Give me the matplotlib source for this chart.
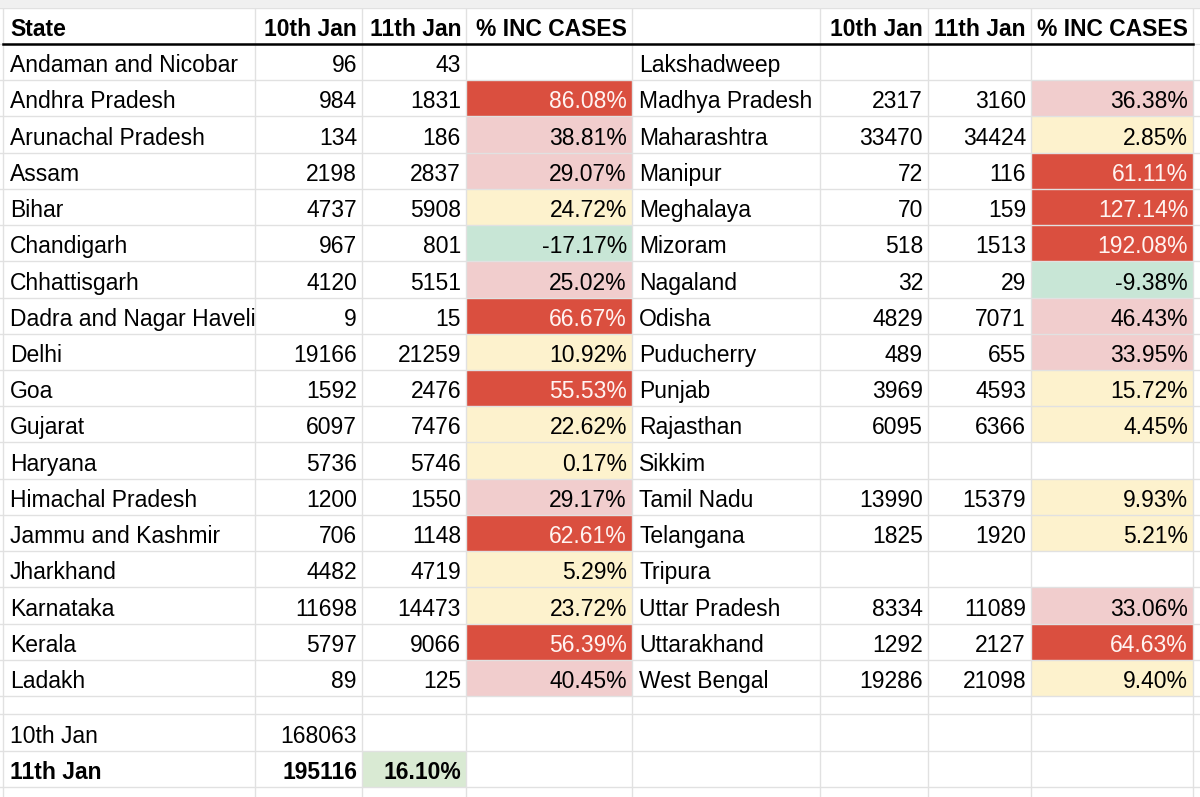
import matplotlib.pyplot as plt
from matplotlib.patches import Rectangle

plt.rcParams['font.family'] = ['Liberation Sans', 'DejaVu Sans']

# left block
left_states = ["Andaman and Nicobar", "Andhra Pradesh", "Arunachal Pradesh", "Assam", "Bihar",
               "Chandigarh", "Chhattisgarh", "Dadra and Nagar Haveli", "Delhi", "Goa", "Gujarat",
               "Haryana", "Himachal Pradesh", "Jammu and Kashmir", "Jharkhand", "Karnataka",
               "Kerala", "Ladakh"]
left_jan10 = [96, 984, 134, 2198, 4737, 967, 4120, 9, 19166, 1592, 6097, 5736, 1200, 706,
              4482, 11698, 5797, 89]
left_jan11 = [43, 1831, 186, 2837, 5908, 801, 5151, 15, 21259, 2476, 7476, 5746, 1550, 1148,
              4719, 14473, 9066, 125]
left_pct = [None, 86.08, 38.81, 29.07, 24.72, -17.17, 25.02, 66.67, 10.92, 55.53, 22.62,
            0.17, 29.17, 62.61, 5.29, 23.72, 56.39, 40.45]

# right block
right_states = ["Lakshadweep", "Madhya Pradesh", "Maharashtra", "Manipur", "Meghalaya",
                "Mizoram", "Nagaland", "Odisha", "Puducherry", "Punjab", "Rajasthan", "Sikkim",
                "Tamil Nadu", "Telangana", "Tripura", "Uttar Pradesh", "Uttarakhand",
                "West Bengal"]
right_jan10 = [None, 2317, 33470, 72, 70, 518, 32, 4829, 489, 3969, 6095, None, 13990, 1825,
               None, 8334, 1292, 19286]
right_jan11 = [None, 3160, 34424, 116, 159, 1513, 29, 7071, 655, 4593, 6366, None, 15379, 1920,
               None, 11089, 2127, 21098]
right_pct = [None, 36.38, 2.85, 61.11, 127.14, 192.08, -9.38, 46.43, 33.95, 15.72, 4.45, None,
             9.93, 5.21, None, 33.06, 64.63, 9.40]

headers = ["State", "10th Jan", "11th Jan", "% INC CASES"]
total_jan10 = 168063
total_jan11 = 195116
total_pct = 16.10

# sheet geometry (pixels)
col_x = [3, 255, 362, 466, 632, 820, 928, 1031, 1193]
row_h = 36.22
header_top, header_bot = 8, 44
FS = 16.5
GRID = "#e1e1e1"


def pct_style(v):
    if v < 0:
        return "#c8e6d6", "black"
    if v < 25:
        return "#fdf2cd", "black"
    if v < 50:
        return "#f1cdcd", "black"
    return "#da4f3f", "#fff4f2"


fig = plt.figure(figsize=(12, 7.97), dpi=100)
ax = fig.add_axes([0, 0, 1, 1])
ax.set_xlim(0, 1200)
ax.set_ylim(797, 0)
ax.axis("off")

# frozen row strip at top
ax.add_patch(Rectangle((0, 0), 1200, header_top, color="#f0f0f0", lw=0))


def cell_text(c, top, bot, s, align="right", color="black", weight="normal"):
    y = bot - 8
    if align == "left":
        t = ax.text(col_x[c] + 7, y, s, ha="left", va="baseline", fontsize=FS,
                    color=color, fontweight=weight)
        # sheets cuts text at the next filled cell
        clip = Rectangle((col_x[c], top), col_x[c + 1] - col_x[c] - 1, bot - top,
                         transform=ax.transData, visible=False)
        ax.add_patch(clip)
        t.set_clip_path(clip)
    else:
        t = ax.text(col_x[c + 1] - 5, y, s, ha="right", va="baseline", fontsize=FS,
                    color=color, fontweight=weight)
    return t


def fill(c, top, bot, color):
    ax.add_patch(Rectangle((col_x[c], top), col_x[c + 1] - col_x[c], bot - top,
                           color=color, lw=0, zorder=0.5))


# header row
for off in (0, 4):
    for j, h in enumerate(headers):
        if off == 4 and j == 0:
            continue
        cell_text(off + j, header_top, header_bot, h,
                  align="left" if j == 0 else "right", weight="bold")

# body rows
row_edges = [header_bot + i * row_h for i in range(len(left_states) + 1)]
blocks = [(0, left_states, left_jan10, left_jan11, left_pct),
          (4, right_states, right_jan10, right_jan11, right_pct)]
for off, names, a, b, p in blocks:
    for i, name in enumerate(names):
        top, bot = row_edges[i], row_edges[i + 1]
        cell_text(off, top, bot, name, align="left")
        if a[i] is not None:
            cell_text(off + 1, top, bot, str(a[i]))
        if b[i] is not None:
            cell_text(off + 2, top, bot, str(b[i]))
        if p[i] is not None:
            bg, fg = pct_style(p[i])
            fill(off + 3, top, bot, bg)
            cell_text(off + 3, top, bot, f"{p[i]:.2f}%", color=fg)

# totals
body_bot = row_edges[-1]
gap_bot = body_bot + 18
t1 = (gap_bot, gap_bot + 37)
t2 = (gap_bot + 37, gap_bot + 73)
cell_text(0, *t1, "10th Jan", align="left")
cell_text(1, *t1, str(total_jan10))
cell_text(0, *t2, "11th Jan", align="left", weight="bold")
cell_text(1, *t2, str(total_jan11), weight="bold")
fill(2, *t2, "#d9ead3")
cell_text(2, *t2, f"{total_pct:.2f}%", weight="bold")

# grid lines
h_lines = [header_top] + row_edges + [gap_bot, t1[1], t2[1]]
for y in h_lines:
    ax.plot([0, 1200], [y, y], color=GRID, lw=1, zorder=0.8)
for x in col_x:
    ax.plot([x, x], [0, 797], color=GRID, lw=1, zorder=0.8)
ax.plot([col_x[0], col_x[-1]], [header_bot, header_bot], color="black", lw=1.8, zorder=1)

fig.savefig("out.png", dpi=100)
